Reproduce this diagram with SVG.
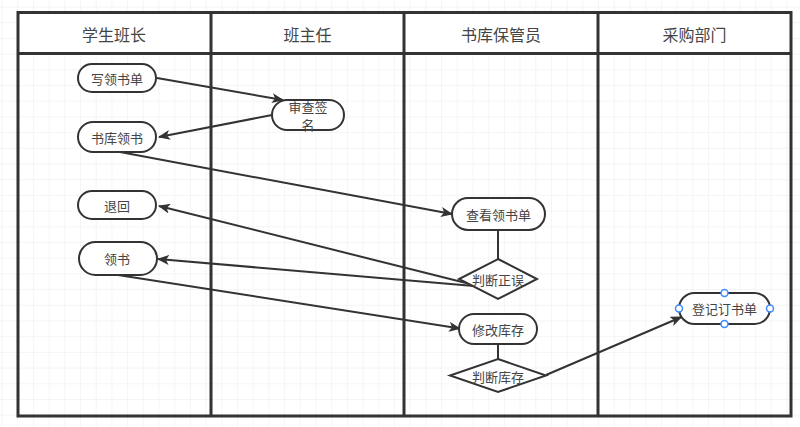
<svg xmlns="http://www.w3.org/2000/svg" width="800" height="427" viewBox="0 0 800 427">
<defs>
<pattern id="grid" x="1.5" y="6.5" width="15.7" height="15.7" patternUnits="userSpaceOnUse">
<path d="M0 0H15.7M0 0V15.7" fill="none" stroke="#ebebeb" stroke-width="1"/>
</pattern>
<marker id="arr" viewBox="0 0 12 10" refX="11" refY="5" markerWidth="12" markerHeight="10" markerUnits="userSpaceOnUse" orient="auto">
<path d="M0 0L12 5L0 10L3 5Z" fill="#333"/>
</marker>
<style>
.lane{fill:none;stroke:#333;stroke-width:3}
.hdr{font-family:"Noto Sans CJK SC",sans-serif;font-size:16px;fill:#444;text-anchor:middle;dominant-baseline:central}
.nd{fill:#fff;stroke:#333;stroke-width:2}
.t{font-family:"Noto Sans CJK SC",sans-serif;font-size:13px;fill:#444;text-anchor:middle;dominant-baseline:central}
.c{fill:none;stroke:#333;stroke-width:2}
.h{fill:#fff;stroke:#3d8bff;stroke-width:1.5}
</style>
</defs>
<rect width="800" height="427" fill="#fff"/>
<rect width="800" height="427" fill="url(#grid)"/>
<g id="pool">
<rect x="18" y="12.5" width="773" height="41" fill="#fff"/>
<rect class="lane" x="18" y="12.5" width="773" height="403.5"/>
<line class="lane" x1="18" y1="53.5" x2="791" y2="53.5"/>
<line class="lane" x1="211" y1="12.5" x2="211" y2="416"/>
<line class="lane" x1="404" y1="12.5" x2="404" y2="416"/>
<line class="lane" x1="598" y1="12.5" x2="598" y2="416"/>
<text class="hdr" x="114" y="33.5">学生班长</text>
<text class="hdr" x="307.5" y="33.5">班主任</text>
<text class="hdr" x="501" y="33.5">书库保管员</text>
<text class="hdr" x="694.5" y="33.5">采购部门</text>
</g>
<g id="connectors">
<path class="c" d="M157 78L283 100" marker-end="url(#arr)"/>
<path class="c" d="M272 115L159 137" marker-end="url(#arr)"/>
<path class="c" d="M120 152L452 214" marker-end="url(#arr)"/>
<path class="c" d="M474 285L159 206" marker-end="url(#arr)"/>
<path class="c" d="M474 286L158 259" marker-end="url(#arr)"/>
<path class="c" d="M118 275L460 328.5" marker-end="url(#arr)"/>
<path class="c" d="M498 230V259"/>
<path class="c" d="M498 344V359"/>
<path class="c" d="M546 375L681.5 317" marker-end="url(#arr)"/>
</g>
<g id="n1"><rect class="nd" x="78" y="64" width="78" height="28" rx="14"/><text class="t" x="117" y="78">写领书单</text></g>
<g id="n2"><rect class="nd" x="272" y="100" width="72" height="30" rx="15"/><text class="t" x="308" y="106"><tspan x="308">审查签</tspan><tspan x="308" dy="17.5">名</tspan></text></g>
<g id="n3"><rect class="nd" x="78" y="122" width="78" height="30" rx="15"/><text class="t" x="117" y="137">书库领书</text></g>
<g id="n4"><rect class="nd" x="78" y="191" width="78" height="28" rx="14"/><text class="t" x="117" y="205">退回</text></g>
<g id="n5"><rect class="nd" x="79" y="242" width="78" height="33" rx="16.5"/><text class="t" x="117" y="258.5">领书</text></g>
<g id="n6"><rect class="nd" x="452" y="198" width="93" height="32" rx="16"/><text class="t" x="498.5" y="214">查看领书单</text></g>
<g id="n7"><path class="nd" d="M498 259L537 279L498 299L459 279Z"/><text class="t" x="498" y="279">判断正误</text></g>
<g id="n8"><rect class="nd" x="459" y="314" width="78" height="30" rx="15"/><text class="t" x="498" y="329">修改库存</text></g>
<g id="n9"><path class="nd" d="M498 359L546 375.5L498 392L450 375.5Z"/><text class="t" x="498" y="376">判断库存</text></g>
<g id="n10"><rect class="nd" x="679" y="293" width="91" height="31" rx="15.5"/><text class="t" x="724.5" y="308.5">登记订书单</text>
<circle class="h" cx="724.5" cy="293" r="3.5"/><circle class="h" cx="679" cy="308.5" r="3.5"/><circle class="h" cx="770" cy="308.5" r="3.5"/><circle class="h" cx="724.5" cy="324" r="3.5"/></g>
</svg>
